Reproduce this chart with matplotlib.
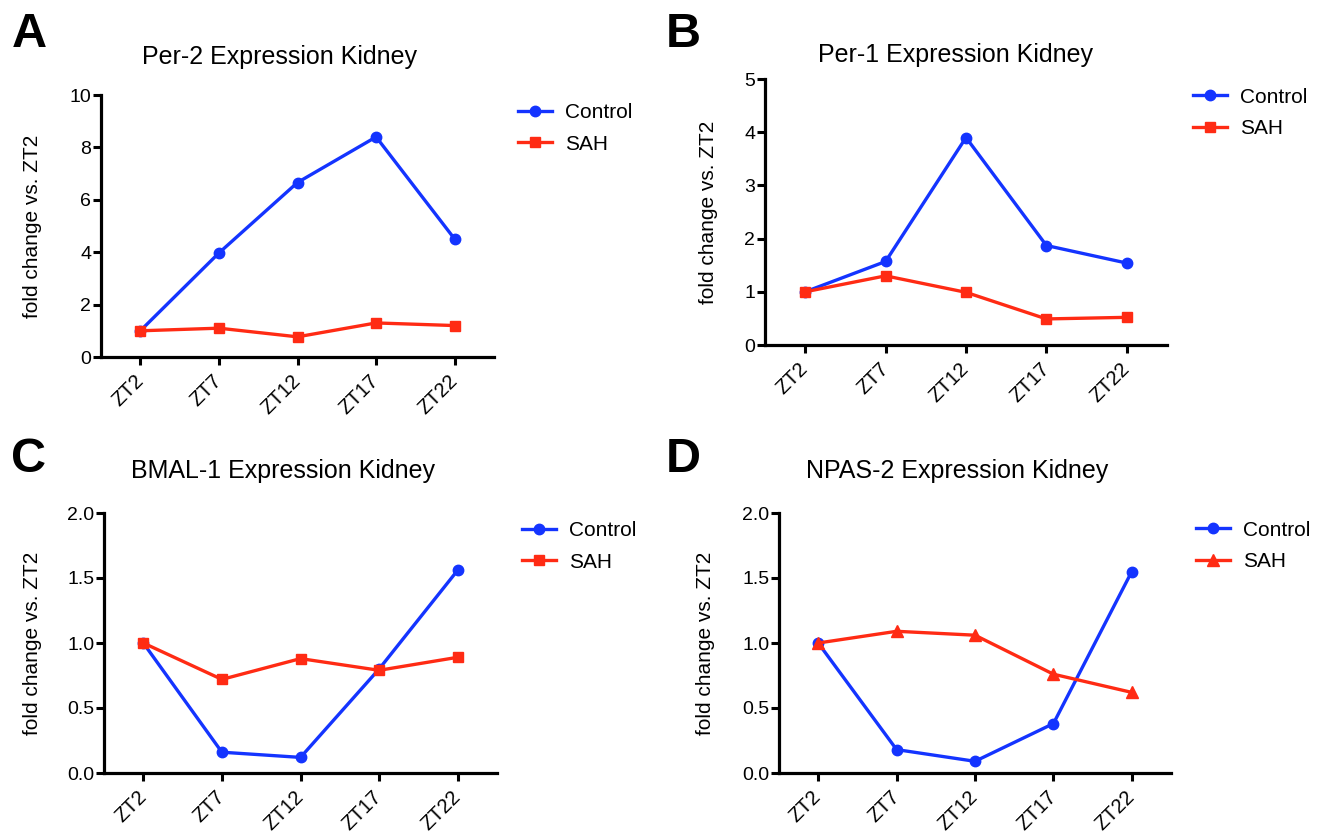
import matplotlib.pyplot as plt

plt.rcParams['font.family'] = ['Liberation Sans', 'DejaVu Sans']

# values
zt_labels = ['ZT2', 'ZT7', 'ZT12', 'ZT17', 'ZT22']

per2_control = [1.0, 3.97, 6.66, 8.4, 4.5]
per2_sah = [1.0, 1.1, 0.77, 1.3, 1.2]

per1_control = [1.0, 1.57, 3.9, 1.87, 1.54]
per1_sah = [1.0, 1.3, 0.99, 0.49, 0.52]

bmal1_control = [1.0, 0.16, 0.12, 0.8, 1.56]
bmal1_sah = [1.0, 0.72, 0.88, 0.79, 0.89]

npas2_control = [1.0, 0.18, 0.09, 0.38, 1.55]
npas2_sah = [1.0, 1.09, 1.06, 0.76, 0.62]

blue = '#1434ff'
red = '#ff2b14'

W, H = 1323, 834

def fx(px):
    return px / W

def fy(px):
    return 1 - px / H

# letter, title, control, sah, sah marker, ymax, yticks, ytick labels
panels = [
    ('A', 'Per-2 Expression Kidney', per2_control, per2_sah, 's', 10,
     [0, 2, 4, 6, 8, 10], ['0', '2', '4', '6', '8', '10']),
    ('B', 'Per-1 Expression Kidney', per1_control, per1_sah, 's', 5,
     [0, 1, 2, 3, 4, 5], ['0', '1', '2', '3', '4', '5']),
    ('C', 'BMAL-1 Expression Kidney', bmal1_control, bmal1_sah, 's', 2,
     [0, 0.5, 1.0, 1.5, 2.0], ['0.0', '0.5', '1.0', '1.5', '2.0']),
    ('D', 'NPAS-2 Expression Kidney', npas2_control, npas2_sah, '^', 2,
     [0, 0.5, 1.0, 1.5, 2.0], ['0.0', '0.5', '1.0', '1.5', '2.0']),
]

# layout in pixels: axes (left, top, right, bottom), title (x, baseline),
# letter (left, baseline), ylabel x (axes frac), legend (handle x, center y)
layout = {
    'A': dict(box=(101, 95, 494, 357), title=(280, 64), letter=(12, 47),
              ylab=-0.150, leg=(518, 128.5)),
    'B': dict(box=(765, 79, 1167, 345), title=(955, 62), letter=(666, 47),
              ylab=-0.118, leg=(1193, 113)),
    'C': dict(box=(104, 513, 497, 773), title=(283, 478), letter=(11, 472),
              ylab=-0.158, leg=(522, 546.5)),
    'D': dict(box=(779, 513, 1171, 773), title=(957, 478), letter=(666, 472),
              ylab=-0.163, leg=(1196, 546)),
}

fig = plt.figure(figsize=(W / 100, H / 100), dpi=100)

for letter, title, ctrl, sah, mk, ymax, yt, ytl in panels:
    lay = layout[letter]
    l, t, r, b = lay['box']
    ax = fig.add_axes([fx(l), fy(b), (r - l) / W, (b - t) / H])
    x = range(len(zt_labels))
    ax.plot(x, ctrl, color=blue, lw=2.4, marker='o', ms=7.5, label='Control',
            clip_on=False, zorder=3)
    ax.plot(x, sah, color=red, lw=2.4, marker=mk, ms=7.5 if mk == 's' else 8,
            label='SAH', clip_on=False, zorder=3)
    ax.set_xlim(-0.5, 4.5)
    ax.set_ylim(0, ymax)
    ax.set_xticks(list(x))
    ax.set_xticklabels(zt_labels, rotation=45, ha='right', va='center',
                       rotation_mode='anchor', fontsize=14.5)
    ax.set_yticks(yt)
    ax.set_yticklabels(ytl, fontsize=14)
    for s in ['top', 'right']:
        ax.spines[s].set_visible(False)
    for s in ['left', 'bottom']:
        ax.spines[s].set_linewidth(2.3)
    ax.tick_params(width=2.2, length=6, direction='out')
    ax.tick_params(axis='y', pad=1)
    ax.tick_params(axis='x', pad=9)
    ax.set_ylabel('fold change vs. ZT2', fontsize=15)
    ax.yaxis.set_label_coords(lay['ylab'], 0.5)

    tx, ty = lay['title']
    fig.text(fx(tx), fy(ty), title, fontsize=18, ha='center', va='baseline')
    lx, ly = lay['letter']
    fig.text(fx(lx), fy(ly), letter, fontsize=35, fontweight='bold',
             ha='left', va='baseline')
    gx, gy = lay['leg']
    fig.legend(handles=ax.get_lines(), loc='center left',
               bbox_to_anchor=(fx(gx), fy(gy)), frameon=False, fontsize=15,
               borderpad=0, borderaxespad=0, handlelength=1.63,
               handletextpad=0.62, labelspacing=0.6)

fig.savefig('out.png', dpi=100)
